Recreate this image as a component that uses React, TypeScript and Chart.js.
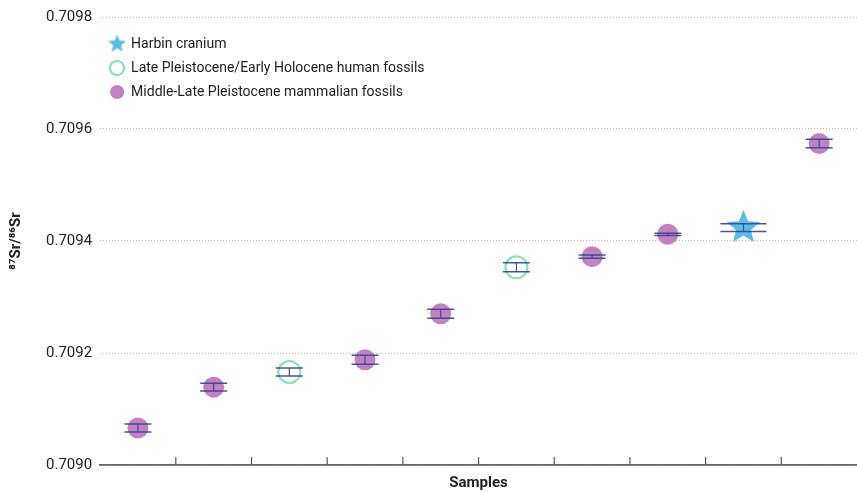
import React, { useEffect, useRef } from 'react';
import { Chart, registerables } from 'chart.js';

Chart.register(...registerables);

// ---------- data ----------
const sampleLabels = ['1', '2', '3', '4', '5', '6', '7', '8', '9', '10'];

const seriesNames = [
  'Harbin cranium',
  'Late Pleistocene/Early Holocene human fossils',
  'Middle-Late Pleistocene mammalian fossils',
];

const harbinValues = [null, null, null, null, null, null, null, null, 0.709424, null];
const harbinErrors = [null, null, null, null, null, null, null, null, 0.000007, null];

const humanValues = [null, null, 0.709166, null, null, 0.709353, null, null, null, null];
const humanErrors = [null, null, 0.000007, null, null, 0.000008, null, null, null, null];

const mammalValues = [0.709066, 0.709139, null, 0.709188, 0.70927, null, 0.709372, 0.709412, null, 0.709574];
const mammalErrors = [0.000007, 0.000007, null, 0.000008, 0.000008, null, 0.000003, 0.000002, null, 0.0000077];

const yMin = 0.709;
const yMax = 0.7098;
const yStep = 0.0002;

const xTitle = 'Samples';
const yTitle = '⁸⁷Sr/⁸⁶Sr';

// ---------- helpers ----------
function makeStar(R: number, color: string): HTMLCanvasElement {
  const c = document.createElement('canvas');
  const size = Math.ceil(R * 2) + 2;
  c.width = size;
  c.height = size;
  const ctx = c.getContext('2d')!;
  const cx = size / 2;
  const cy = size / 2;
  const r = R * 0.45;
  ctx.beginPath();
  for (let i = 0; i < 10; i++) {
    const rad = i % 2 === 0 ? R : r;
    const a = -Math.PI / 2 + (i * Math.PI) / 5;
    const px = cx + rad * Math.cos(a);
    const py = cy + rad * Math.sin(a);
    if (i === 0) ctx.moveTo(px, py);
    else ctx.lineTo(px, py);
  }
  ctx.closePath();
  ctx.fillStyle = color;
  ctx.fill();
  return c;
}

const errorBarPlugin = {
  id: 'errorBars',
  afterDatasetsDraw(chart: any) {
    const ctx = chart.ctx;
    const yScale = chart.scales.y;
    chart.data.datasets.forEach((ds: any, di: number) => {
      const meta = chart.getDatasetMeta(di);
      const errs = ds.errors as (number | null)[];
      if (!errs) return;
      ds.data.forEach((v: number | null, i: number) => {
        const e = errs[i];
        if (v == null || e == null) return;
        const el = meta.data[i];
        if (!el) return;
        const x = el.x;
        const yTop = yScale.getPixelForValue(v + e);
        const yBot = yScale.getPixelForValue(v - e);
        const hw = ds.capHalfWidth || 13.5;
        ctx.save();
        ctx.strokeStyle = 'rgba(52,68,150,0.9)';
        ctx.lineWidth = 1.2;
        ctx.beginPath();
        ctx.moveTo(x, yTop);
        ctx.lineTo(x, yBot);
        ctx.stroke();
        ctx.lineWidth = 1.5;
        ctx.beginPath();
        ctx.moveTo(x - hw, yTop);
        ctx.lineTo(x + hw, yTop);
        ctx.moveTo(x - hw, yBot);
        ctx.lineTo(x + hw, yBot);
        ctx.stroke();
        ctx.restore();
      });
    });
  },
};

const innerTicksPlugin = {
  id: 'innerTicks',
  afterDraw(chart: any) {
    const ctx = chart.ctx;
    const xs = chart.scales.x;
    const bottom = chart.chartArea.bottom;
    ctx.save();
    ctx.strokeStyle = '#555';
    ctx.lineWidth = 1.2;
    for (let i = 0; i < sampleLabels.length - 1; i++) {
      const x = (xs.getPixelForValue(i) + xs.getPixelForValue(i + 1)) / 2;
      ctx.beginPath();
      ctx.moveTo(x, bottom);
      ctx.lineTo(x, bottom - 8);
      ctx.stroke();
    }
    ctx.restore();
  },
};

export default function App() {
  const canvasRef = useRef<HTMLCanvasElement | null>(null);

  useEffect(() => {
    document.body.style.margin = '0';
    document.body.style.overflow = 'hidden';
    Chart.defaults.font.family = 'Roboto';
    const bigStar = makeStar(17.5, '#5bbde3');
    const smallStar = makeStar(9.5, '#5bbde3');

    const chart = new Chart(canvasRef.current!, {
      type: 'line',
      data: {
        labels: sampleLabels,
        datasets: [
          {
            label: seriesNames[0],
            data: harbinValues,
            errors: harbinErrors,
            capHalfWidth: 23,
            showLine: false,
            pointStyle: bigStar,
            pointRadius: 17,
            backgroundColor: '#5bbde3',
            borderColor: '#5bbde3',
            borderWidth: 0,
          } as any,
          {
            label: seriesNames[1],
            data: humanValues,
            errors: humanErrors,
            capHalfWidth: 13.5,
            showLine: false,
            pointStyle: 'circle',
            pointRadius: 11,
            pointBorderWidth: 2,
            backgroundColor: 'rgba(255,255,255,0)',
            borderColor: '#86e3b0',
            borderWidth: 2,
          } as any,
          {
            label: seriesNames[2],
            data: mammalValues,
            errors: mammalErrors,
            capHalfWidth: 13.5,
            showLine: false,
            pointStyle: 'circle',
            pointRadius: 10.5,
            pointBorderWidth: 0,
            backgroundColor: '#c282bf',
            borderColor: '#c282bf',
            borderWidth: 0,
          } as any,
        ],
      },
      options: {
        animation: false,
        responsive: false,
        maintainAspectRatio: false,
        layout: { autoPadding: false, padding: { top: 17, right: 0, bottom: 0, left: 0 } },
        plugins: {
          tooltip: { enabled: false },
          legend: {
            position: 'chartArea' as any,
            align: 'start',
            title: { display: true, text: '', padding: { top: 0, bottom: 17 }, font: { size: 10, lineHeight: 1 } },
            labels: {
              usePointStyle: true,
              boxHeight: 10,
              padding: 10,
              color: '#222',
              font: { size: 14, family: 'Roboto' },
              generateLabels(chart: any) {
                const items = Chart.defaults.plugins.legend.labels.generateLabels(chart);
                items.forEach((it: any) => {
                  if (it.datasetIndex === 0) it.pointStyle = smallStar;
                });
                return items;
              },
            },
          },
        },
        scales: {
          x: {
            type: 'category',
            offset: true,
            grid: { display: false, drawTicks: false },
            border: { display: true, color: '#666', width: 1.8 },
            ticks: { display: false },
            title: {
              display: true,
              text: xTitle,
              color: '#222',
              font: { size: 15, weight: 'bold', family: 'Roboto' },
              padding: { top: 9, bottom: 0 },
            },
          },
          y: {
            type: 'linear',
            min: yMin,
            max: yMax,
            grid: { color: '#b8b8b8', lineWidth: 1, drawTicks: false },
            border: { display: false, dash: [1, 2] },
            ticks: {
              stepSize: yStep,
              padding: 8,
              color: '#222',
              font: { size: 15, family: 'Roboto' },
              callback: (v: any) => Number(v).toFixed(4),
            },
            title: {
              display: true,
              text: yTitle,
              color: '#222',
              font: { size: 15, weight: 'bold', family: 'Roboto' },
              padding: { top: 7, bottom: 13 },
            },
          },
        },
      } as any,
      plugins: [errorBarPlugin, innerTicksPlugin],
    });

    return () => chart.destroy();
  }, []);

  return (
    <div style={{ position: 'fixed', left: 0, top: 0, width: 857, height: 492 }}>
      <canvas ref={canvasRef} width={857} height={492} />
    </div>
  );
}
